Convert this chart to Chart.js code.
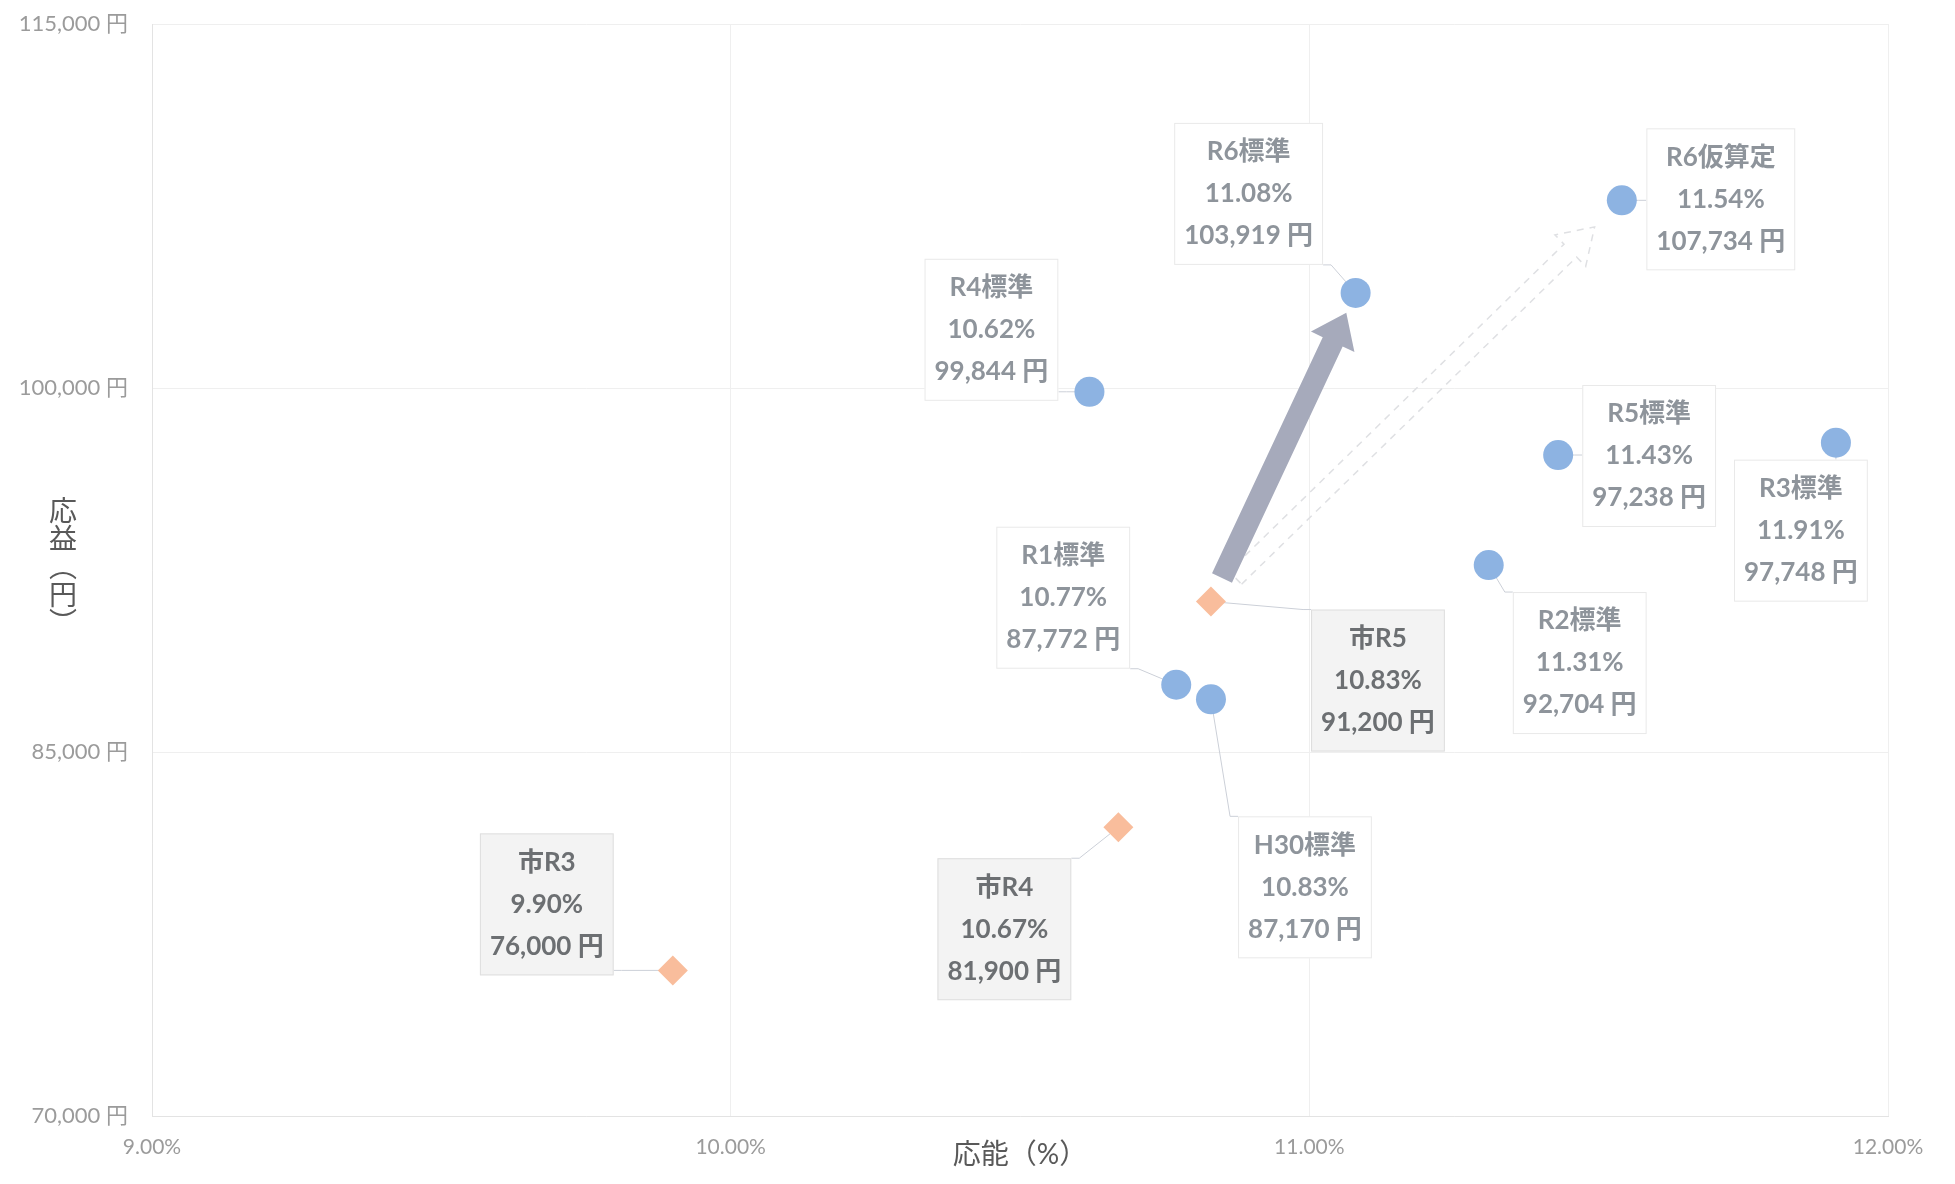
<!DOCTYPE html>
<html lang="ja">
<head>
<meta charset="utf-8">
<title>応能・応益</title>
<script src="https://cdn.jsdelivr.net/npm/chart.js@4.4.1/dist/chart.umd.min.js"></script>
<style>
  html, body { margin: 0; padding: 0; background: #fff; }
  #wrap { width: 1955px; height: 1184px; }
</style>
</head>
<body>
<div id="wrap"><canvas id="chart" width="1955" height="1184"></canvas></div>
<script>
// Data
const stdNames = ['H30標準', 'R1標準', 'R2標準', 'R3標準', 'R4標準', 'R5標準', 'R6標準', 'R6仮算定'];
const stdRate = [10.83, 10.77, 11.31, 11.91, 10.62, 11.43, 11.08, 11.54];
const stdAmount = [87170, 87772, 92704, 97748, 99844, 97238, 103919, 107734];

const cityNames = ['市R3', '市R4', '市R5'];
const cityRate = [9.90, 10.67, 10.83];
const cityAmount = [76000, 81900, 91200];

const xTicks = [9, 10, 11, 12];
const yTicks = [70000, 85000, 100000, 115000];

// Where each label box sits, relative to its point (px)
const stdLabelOffset = [[94, 188], [-113, -87], [91, 98], [-35, 88], [-98, -62], [91, 1], [-107, -99], [99, -1]];
const cityLabelOffset = [[-126, -66], [-114, 102], [167, 79]];

const FONT = 'Lato, "Noto Sans CJK JP", sans-serif';

function toPoints(xs, ys) {
    return xs.map((x, i) => ({ x: x, y: ys[i] }));
}

function fmtYen(v) {
    return v.toLocaleString('ja-JP') + ' 円';
}

function arrowPath(ctx, x1, y1, x2, y2, sw, hw, hl) {
    const dx = x2 - x1, dy = y2 - y1;
    const len = Math.hypot(dx, dy);
    const ux = dx / len, uy = dy / len;
    const nx = -uy, ny = ux;
    const bx = x2 - ux * hl, by = y2 - uy * hl;
    ctx.beginPath();
    ctx.moveTo(x1 + nx * sw, y1 + ny * sw);
    ctx.lineTo(bx + nx * sw, by + ny * sw);
    ctx.lineTo(bx + nx * hw, by + ny * hw);
    ctx.lineTo(x2, y2);
    ctx.lineTo(bx - nx * hw, by - ny * hw);
    ctx.lineTo(bx - nx * sw, by - ny * sw);
    ctx.lineTo(x1 - nx * sw, y1 - ny * sw);
    ctx.closePath();
}

function shorten(a, b, startCut, endCut) {
    const dx = b.x - a.x, dy = b.y - a.y;
    const len = Math.hypot(dx, dy);
    return [
        a.x + dx / len * startCut, a.y + dy / len * startCut,
        b.x - dx / len * endCut, b.y - dy / len * endCut
    ];
}

// Arrows: 市R5 -> R6標準 (solid), 市R5 -> R6仮算定 (dashed outline)
const arrowPlugin = {
    id: 'arrows',
    beforeDatasetsDraw(chart) {
        const ctx = chart.ctx;
        const std = chart.getDatasetMeta(0).data;
        const city = chart.getDatasetMeta(1).data;
        const from = city[2];

        ctx.save();
        let c = shorten(from, std[7], 34, 38);
        arrowPath(ctx, c[0], c[1], c[2], c[3], 9, 22, 34);
        ctx.setLineDash([7, 6]);
        ctx.strokeStyle = '#dfe0e3';
        ctx.lineWidth = 1.5;
        ctx.stroke();

        c = shorten(from, std[6], 26, 22);
        arrowPath(ctx, c[0], c[1], c[2], c[3], 11, 24, 32);
        ctx.setLineDash([]);
        ctx.fillStyle = '#a6aabb';
        ctx.fill();
        ctx.restore();
    }
};

function boxFor(chart, pt, off, lines) {
    const ctx = chart.ctx;
    ctx.font = 'bold 26px ' + FONT;
    const w = Math.max(...lines.map(l => ctx.measureText(l).width)) + 20;
    const h = 142;
    const cx = pt.x + off[0], cy = pt.y + off[1];
    return { x: cx - w / 2, y: cy - h / 2, w: w, h: h, cx: cx, cy: cy };
}

function labelSets(chart) {
    const std = chart.getDatasetMeta(0).data;
    const city = chart.getDatasetMeta(1).data;
    const sets = [];
    std.forEach((pt, i) => sets.push({
        pt: pt, off: stdLabelOffset[i], city: false,
        lines: [stdNames[i], stdRate[i].toFixed(2) + '%', fmtYen(stdAmount[i])]
    }));
    city.forEach((pt, i) => sets.push({
        pt: pt, off: cityLabelOffset[i], city: true,
        lines: [cityNames[i], cityRate[i].toFixed(2) + '%', fmtYen(cityAmount[i])]
    }));
    return sets;
}

const labelPlugin = {
    id: 'boxLabels',
    beforeDatasetsDraw(chart) {
        // leader lines go under the markers
        const ctx = chart.ctx;
        ctx.save();
        ctx.strokeStyle = '#ccd0d8';
        ctx.lineWidth = 1;
        labelSets(chart).forEach(s => {
            const b = boxFor(chart, s.pt, s.off, s.lines);
            const ax = Math.min(Math.max(s.pt.x, b.x), b.x + b.w);
            const ay = Math.min(Math.max(s.pt.y, b.y), b.y + b.h);
            ctx.beginPath();
            if (ax === b.x || ax === b.x + b.w) {
                const stub = ax === b.x ? -8 : 8;
                ctx.moveTo(ax, ay);
                ctx.lineTo(ax + stub, ay);
                ctx.lineTo(s.pt.x, s.pt.y);
            } else {
                ctx.moveTo(ax, ay);
                ctx.lineTo(s.pt.x, s.pt.y);
            }
            ctx.stroke();
        });
        ctx.restore();
    },
    afterDatasetsDraw(chart) {
        const ctx = chart.ctx;
        ctx.save();
        labelSets(chart).forEach(s => {
            const b = boxFor(chart, s.pt, s.off, s.lines);
            ctx.fillStyle = s.city ? '#f3f3f3' : '#ffffff';
            ctx.fillRect(b.x, b.y, b.w, b.h);
            ctx.strokeStyle = s.city ? '#dedede' : '#e9e9e9';
            ctx.lineWidth = 1;
            ctx.strokeRect(b.x + 0.5, b.y + 0.5, b.w - 1, b.h - 1);
            ctx.fillStyle = s.city ? '#6c6f72' : '#8e949b';
            ctx.font = 'bold 26px ' + FONT;
            ctx.textAlign = 'center';
            ctx.textBaseline = 'middle';
            s.lines.forEach((l, k) => ctx.fillText(l, b.cx, b.cy + (k - 1) * 42));
        });
        ctx.restore();
    }
};

// Axis titles: y title is stacked vertically, character by character
const titlePlugin = {
    id: 'axisTitles',
    afterDraw(chart) {
        const ctx = chart.ctx;
        const area = chart.chartArea;
        ctx.save();
        ctx.fillStyle = '#595959';
        ctx.font = '28px ' + FONT;
        ctx.textAlign = 'center';
        ctx.textBaseline = 'middle';
        ctx.fillText('応能（%）', (area.left + area.right) / 2, 1155);
        const chars = ['応', '益', '︵', '円', '︶'];
        chars.forEach((ch, i) => ctx.fillText(ch, 63, 512 + i * 28));
        ctx.restore();
    }
};

const chart = new Chart(document.getElementById('chart'), {
    type: 'scatter',
    data: {
        datasets: [
            {
                label: '標準',
                data: toPoints(stdRate, stdAmount),
                pointStyle: 'circle',
                pointRadius: 15,
                pointHoverRadius: 15,
                backgroundColor: '#8db3e2',
                borderColor: '#8db3e2',
                borderWidth: 0
            },
            {
                label: '市',
                data: toPoints(cityRate, cityAmount),
                pointStyle: 'rectRot',
                pointRadius: 15,
                pointHoverRadius: 15,
                backgroundColor: '#f9bd9c',
                borderColor: '#f9bd9c',
                borderWidth: 0
            }
        ]
    },
    options: {
        responsive: false,
        animation: false,
        layout: { padding: { left: 0, right: 67, top: 24, bottom: 0 } },
        plugins: {
            legend: { display: false },
            tooltip: { enabled: false }
        },
        scales: {
            x: {
                type: 'linear',
                min: xTicks[0],
                max: xTicks[xTicks.length - 1],
                afterBuildTicks: scale => { scale.ticks = xTicks.map(v => ({ value: v })); },
                afterFit: scale => {
                    scale.height = 68;
                    scale.paddingLeft = 0;
                    scale.paddingRight = 0;
                },
                grid: { color: '#efefef', drawTicks: false },
                border: { display: true, color: '#e3e3e3' },
                ticks: {
                    padding: 19,
                    color: '#9b9b9b',
                    font: { family: FONT, size: 21 },
                    callback: v => v.toFixed(2) + '%'
                }
            },
            y: {
                type: 'linear',
                min: yTicks[0],
                max: yTicks[yTicks.length - 1],
                afterBuildTicks: scale => { scale.ticks = yTicks.map(v => ({ value: v })); },
                afterFit: scale => {
                    scale.width = 152;
                    scale.paddingTop = 0;
                    scale.paddingBottom = 0;
                },
                grid: { color: '#efefef', drawTicks: false },
                border: { display: true, color: '#e3e3e3' },
                ticks: {
                    padding: 24,
                    color: '#9b9b9b',
                    font: { family: FONT, size: 22 },
                    callback: v => v.toLocaleString('ja-JP') + ' 円'
                }
            }
        }
    },
    plugins: [arrowPlugin, labelPlugin, titlePlugin]
});
</script>
</body>
</html>
